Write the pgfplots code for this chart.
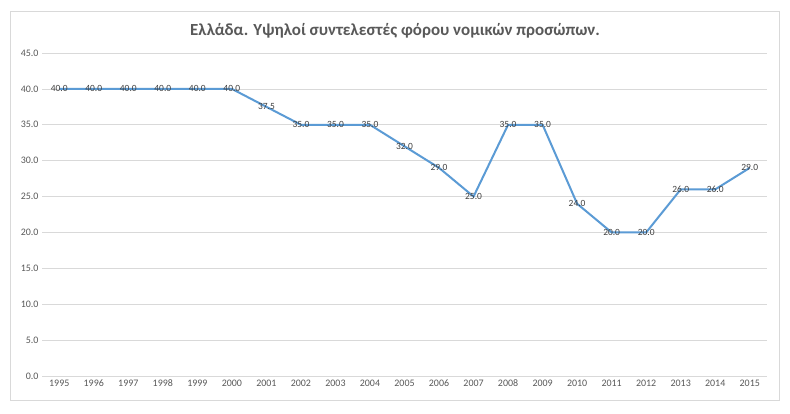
\documentclass[border=0pt]{standalone}
\usepackage{pgfplots}
\pgfplotsset{compat=1.18}
\usepackage{fontspec}
\setmainfont{Carlito}
\definecolor{linec}{HTML}{5B9BD5}
\definecolor{gridc}{HTML}{D9D9D9}
\definecolor{txtc}{HTML}{595959}
\definecolor{lblc}{HTML}{404040}
\begin{document}
\begin{tikzpicture}[x=1bp,y=1bp]
\fill[white] (0,0) rectangle (790,413);
\draw[gridc, line width=0.75bp] (10,13) rectangle (779,402);
\node[font=\fontsize{17}{20}\selectfont\bfseries, text=txtc] at (395,382) {Ελλάδα. Υψηλοί συντελεστές φόρου νομικών προσώπων.};
\begin{axis}[
  at={(42bp,37bp)}, anchor=south west,
  scale only axis, width=725bp, height=323bp,
  xmin=-0.5, xmax=20.5, ymin=0, ymax=45,
  xtick={0,...,20},
  xticklabels={1995,1996,1997,1998,1999,2000,2001,2002,2003,2004,2005,2006,2007,2008,2009,2010,2011,2012,2013,2014,2015},
  ytick={0,5,...,45},
  yticklabel style={/pgf/number format/.cd,fixed,fixed zerofill,precision=1},
  /pgf/number format/assume math mode=true,
  ticklabel style={font=\fontsize{10}{12}\selectfont, text=txtc},
  xticklabel style={text height=7bp, text depth=1bp},
  major tick length=0pt,
  axis line style={draw=none},
  ymajorgrids, grid style={gridc, line width=0.75bp},
  clip=false,
]
\addplot[linec, line width=2bp, mark=none,
  nodes near coords,
  nodes near coords style={anchor=center, font=\fontsize{9.5}{11}\selectfont, text=lblc, /pgf/number format/.cd, fixed, fixed zerofill, precision=1},
] coordinates {
(0,40) (1,40) (2,40) (3,40) (4,40) (5,40) (6,37.5) (7,35) (8,35) (9,35) (10,32) (11,29) (12,25) (13,35) (14,35) (15,24) (16,20) (17,20) (18,26) (19,26) (20,29)
};
\end{axis}
\end{tikzpicture}
\end{document}
